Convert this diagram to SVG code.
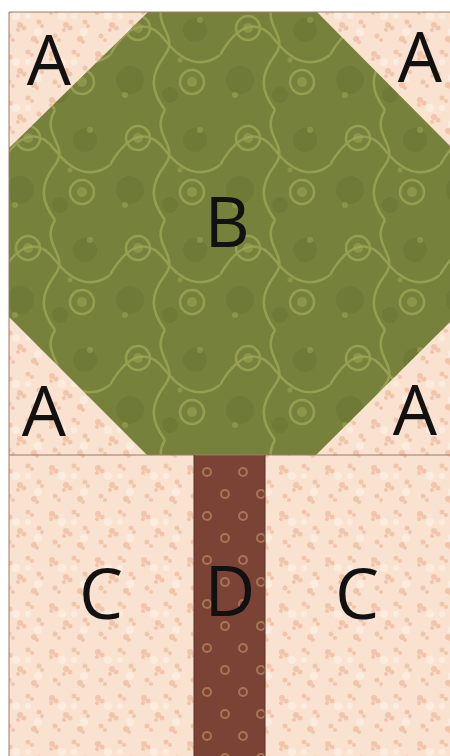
<svg xmlns="http://www.w3.org/2000/svg" width="450" height="756" viewBox="0 0 450 756">
<defs>
<pattern id="cream" width="46" height="46" patternUnits="userSpaceOnUse">
<rect width="46" height="46" fill="#f9e2d0"/>
<g fill="#f0bb9f" opacity="0.75">
<circle cx="6" cy="8" r="3"/><circle cx="10" cy="11" r="2.5"/><circle cx="5" cy="13" r="2"/>
<circle cx="28" cy="6" r="2.5"/><circle cx="32" cy="9" r="2"/>
<circle cx="20" cy="25" r="3"/><circle cx="24" cy="28" r="2.5"/><circle cx="18" cy="30" r="2"/>
<circle cx="39" cy="22" r="2.5"/><circle cx="42" cy="26" r="2"/>
<circle cx="9" cy="36" r="2.5"/><circle cx="13" cy="40" r="2"/>
<circle cx="34" cy="39" r="3"/><circle cx="37" cy="42" r="2"/>
</g>
<g fill="#fdf1e6" opacity="0.7">
<circle cx="16" cy="16" r="4"/><circle cx="38" cy="32" r="4"/><circle cx="28" cy="16" r="3"/>
</g>
</pattern>
<pattern id="green" width="110" height="110" patternUnits="userSpaceOnUse">
<rect width="110" height="110" fill="#76823b"/>
<g fill="#68752f" opacity="0.6">
<circle cx="20" cy="80" r="14"/><circle cx="85" cy="30" r="12"/><circle cx="60" cy="95" r="8"/>
</g>
<g fill="none" stroke="#a6ae5c" stroke-width="2.5" opacity="0.65">
<path d="M0 55 C20 20 40 20 55 40 S90 70 110 55"/>
<path d="M55 0 C40 25 70 35 55 55 S40 90 55 110"/>
<circle cx="28" cy="28" r="12"/>
<circle cx="82" cy="82" r="12"/>
</g>
<g fill="#a0a958" opacity="0.5">
<circle cx="28" cy="28" r="5"/><circle cx="82" cy="82" r="5"/>
<circle cx="90" cy="20" r="3"/><circle cx="15" cy="95" r="3"/><circle cx="70" cy="60" r="2.5"/>
</g>
</pattern>
<pattern id="brown" width="36" height="44" patternUnits="userSpaceOnUse">
<rect width="36" height="44" fill="#7b4336"/>
<g fill="none" stroke="#a87452" stroke-width="2">
<circle cx="9" cy="10" r="4"/>
<circle cx="27" cy="32" r="4"/>
</g>
</pattern>
<style>
.lbl{font-family:"Open Sans","DejaVu Sans",sans-serif;font-size:70px;fill:#111;text-anchor:middle}
.edge{stroke:#9a7a68;stroke-width:1}
</style>
</defs>
<rect width="450" height="756" fill="#ffffff"/>
<g id="background">
<rect x="9" y="12" width="441" height="744" fill="url(#cream)"/>
</g>
<g id="B">
<polygon points="148,12 317,12 450,146 450,322 316,455 147,455 9,317 9,148" fill="url(#green)"/>
<text class="lbl" x="227" y="247">B</text>
</g>
<g id="D">
<rect x="194" y="455" width="71" height="301" fill="url(#brown)"/>
<text class="lbl" x="230" y="616">D</text>
</g>
<g id="lines">
<line class="edge" x1="9" y1="455" x2="450" y2="455"/>
<line class="edge" x1="9" y1="12" x2="9" y2="756"/>
<line class="edge" x1="9" y1="12" x2="450" y2="12"/>
<line x1="194" y1="455" x2="194" y2="756" stroke="#5a3028" stroke-width="1"/>
<line x1="265" y1="455" x2="265" y2="756" stroke="#5a3028" stroke-width="1"/>
</g>
<g id="A-top-left"><text class="lbl" x="49" y="85">A</text></g>
<g id="A-top-right"><text class="lbl" x="420" y="82">A</text></g>
<g id="A-bottom-left"><text class="lbl" x="44" y="436">A</text></g>
<g id="A-bottom-right"><text class="lbl" x="415" y="435">A</text></g>
<g id="C-left"><text class="lbl" x="101" y="619">C</text></g>
<g id="C-right"><text class="lbl" x="357" y="619">C</text></g>
</svg>
